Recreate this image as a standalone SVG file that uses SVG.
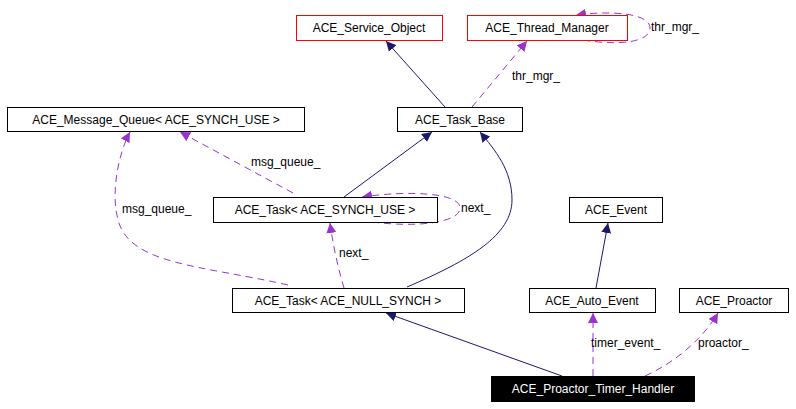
<svg xmlns="http://www.w3.org/2000/svg" width="796" height="409" viewBox="0 0 796 409">
<defs>
<marker id="an" viewBox="0 0 10 10" refX="10" refY="5" markerWidth="10" markerHeight="10" markerUnits="userSpaceOnUse" orient="auto"><path d="M0,0L10,5L0,10z" fill="#191970"/></marker>
<marker id="ap" viewBox="0 0 10 10" refX="10" refY="5" markerWidth="10" markerHeight="10" markerUnits="userSpaceOnUse" orient="auto"><path d="M0,0L10,5L0,10z" fill="#9a32cd"/></marker>
</defs>
<style>
text{font-family:"Liberation Sans",Arial,sans-serif;font-size:12px;fill:#000}
.n rect{fill:#fff;stroke:#000;stroke-width:1}
.r rect{stroke:#ff0000}
.b rect{fill:#000}
.b text{fill:#fff}
.n text{text-anchor:middle}
.s{fill:none;stroke:#191970;stroke-width:1;marker-end:url(#an)}
.d{fill:none;stroke:#9a32cd;stroke-width:1;stroke-dasharray:7,5;marker-end:url(#ap)}
</style>
<rect width="796" height="409" fill="#fff"/>
<g id="connectors">
<path class="s" d="M445,107L386,41"/>
<path class="d" d="M472,107L527,41"/>
<text x="512" y="80">thr_mgr_</text>
<path class="d" d="M583,40C620,46 650,42 650,28C650,14 615,10 576,15"/>
<text x="651" y="31">thr_mgr_</text>
<path class="s" d="M344,197L432,132"/>
<path class="d" d="M293,193L180,132"/>
<text x="251" y="166">msg_queue_</text>
<path class="d" d="M372,222C420,228 460,222 460,208C460,193 410,190 362,197"/>
<text x="461" y="212">next_</text>
<path class="d" d="M344,288C338,268 333,245 330,223"/>
<text x="339" y="257">next_</text>
<path class="s" d="M407,287C470,260 512,235 512,200C512,170 495,150 480,132"/>
<path class="d" d="M288,285C200,265 130,265 118,220C110,190 120,150 130,132"/>
<text x="122" y="213">msg_queue_</text>
<path class="s" d="M562,376L386,313"/>
<path class="s" d="M596,288L608,223"/>
<path class="d" d="M593,376L593,313"/>
<text x="591" y="347">timer_event_</text>
<path class="d" d="M645,376C680,360 705,335 718,313"/>
<text x="698" y="347">proactor_</text>
</g>
<g id="n_service" class="n r"><rect x="296.5" y="15.5" width="146" height="25"/><text x="369" y="32">ACE_Service_Object</text></g>
<g id="n_thread" class="n r"><rect x="467.5" y="15.5" width="160" height="25"/><text x="547" y="32">ACE_Thread_Manager</text></g>
<g id="n_mq" class="n"><rect x="7.5" y="107.5" width="297" height="24"/><text x="156" y="124">ACE_Message_Queue&lt; ACE_SYNCH_USE &gt;</text></g>
<g id="n_taskbase" class="n"><rect x="397.5" y="107.5" width="125" height="24"/><text x="460" y="124">ACE_Task_Base</text></g>
<g id="n_tasksu" class="n"><rect x="213.5" y="197.5" width="224" height="25"/><text x="325" y="214">ACE_Task&lt; ACE_SYNCH_USE &gt;</text></g>
<g id="n_event" class="n"><rect x="569.5" y="197.5" width="93" height="25"/><text x="616" y="214">ACE_Event</text></g>
<g id="n_tasknull" class="n"><rect x="232.5" y="288.5" width="232" height="24"/><text x="348" y="305">ACE_Task&lt; ACE_NULL_SYNCH &gt;</text></g>
<g id="n_autoevent" class="n"><rect x="529.5" y="288.5" width="126" height="24"/><text x="592" y="305">ACE_Auto_Event</text></g>
<g id="n_proactor" class="n"><rect x="679.5" y="288.5" width="109" height="24"/><text x="734" y="305">ACE_Proactor</text></g>
<g id="n_pth" class="n b"><rect x="491.5" y="376.5" width="203" height="25"/><text x="593" y="393">ACE_Proactor_Timer_Handler</text></g>
</svg>
